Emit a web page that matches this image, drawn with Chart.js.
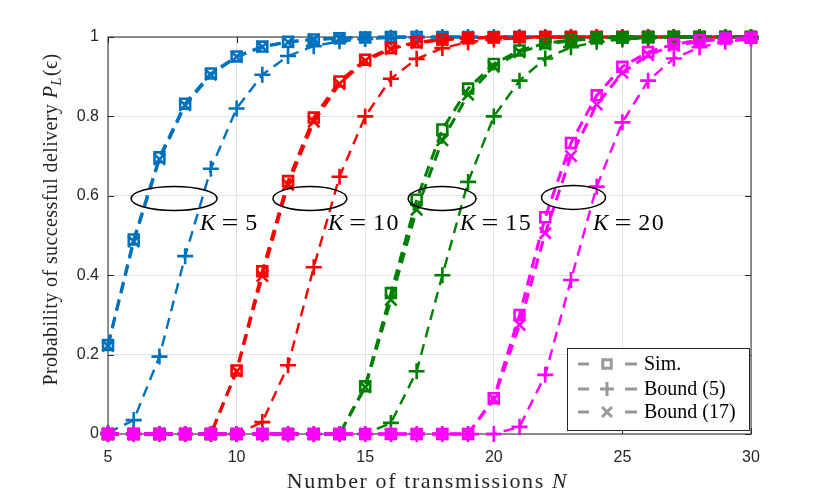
<!DOCTYPE html>
<html>
<head>
<meta charset="utf-8">
<script src="https://cdn.jsdelivr.net/npm/chart.js@4.4.1/dist/chart.umd.min.js"></script>
<style>
  html, body { margin: 0; padding: 0; background: #fff; }
</style>
</head>
<body>
<canvas id="c" width="830" height="498"></canvas>
<script>
// number of transmissions N
const Ns = [5, 6, 7, 8, 9, 10, 11, 12, 13, 14, 15, 16, 17, 18, 19, 20, 21, 22, 23, 24, 25, 26, 27, 28, 29, 30];

// K = 5
const sim5  = [0.224, 0.490, 0.697, 0.832, 0.908, 0.951, 0.976, 0.988, 0.994, 0.997, 0.999, 1, 1, 1, 1, 1, 1, 1, 1, 1, 1, 1, 1, 1, 1, 1];
const b5_5  = [0.003, 0.035, 0.195, 0.448, 0.668, 0.820, 0.905, 0.952, 0.977, 0.989, 0.995, 0.998, 0.999, 1, 1, 1, 1, 1, 1, 1, 1, 1, 1, 1, 1, 1];
const b17_5 = [0.222, 0.485, 0.692, 0.828, 0.905, 0.950, 0.975, 0.987, 0.994, 0.997, 0.999, 1, 1, 1, 1, 1, 1, 1, 1, 1, 1, 1, 1, 1, 1, 1];

// K = 10
const sim10  = [0, 0, 0, 0, 0, 0.160, 0.410, 0.637, 0.797, 0.888, 0.943, 0.972, 0.987, 0.994, 0.997, 0.999, 1, 1, 1, 1, 1, 1, 1, 1, 1, 1];
const b5_10  = [0, 0, 0, 0, 0, 0, 0.030, 0.173, 0.420, 0.648, 0.800, 0.895, 0.945, 0.972, 0.987, 0.994, 0.997, 0.999, 1, 1, 1, 1, 1, 1, 1, 1];
const b17_10 = [0, 0, 0, 0, 0, 0.158, 0.398, 0.628, 0.787, 0.882, 0.940, 0.970, 0.985, 0.993, 0.997, 0.999, 1, 1, 1, 1, 1, 1, 1, 1, 1, 1];

// K = 15
const sim15  = [0, 0, 0, 0, 0, 0, 0, 0, 0, 0, 0.120, 0.355, 0.590, 0.767, 0.870, 0.932, 0.966, 0.984, 0.993, 0.997, 0.999, 1, 1, 1, 1, 1];
const b5_15  = [0, 0, 0, 0, 0, 0, 0, 0, 0, 0, 0, 0.028, 0.158, 0.400, 0.635, 0.800, 0.890, 0.946, 0.974, 0.988, 0.994, 0.997, 0.999, 1, 1, 1];
const b17_15 = [0, 0, 0, 0, 0, 0, 0, 0, 0, 0, 0.118, 0.338, 0.565, 0.740, 0.855, 0.925, 0.962, 0.981, 0.991, 0.996, 0.998, 0.999, 1, 1, 1, 1];

// K = 20
const sim20  = [0, 0, 0, 0, 0, 0, 0, 0, 0, 0, 0, 0, 0, 0, 0, 0.090, 0.300, 0.546, 0.733, 0.853, 0.925, 0.962, 0.982, 0.992, 0.996, 0.998];
const b5_20  = [0, 0, 0, 0, 0, 0, 0, 0, 0, 0, 0, 0, 0, 0, 0, 0, 0.018, 0.149, 0.388, 0.623, 0.785, 0.890, 0.946, 0.974, 0.988, 0.995];
const b17_20 = [0, 0, 0, 0, 0, 0, 0, 0, 0, 0, 0, 0, 0, 0, 0, 0.088, 0.275, 0.506, 0.700, 0.830, 0.910, 0.955, 0.978, 0.989, 0.995, 0.998];

const xTicks = [5, 10, 15, 20, 25, 30];
const yTicks = [0, 0.2, 0.4, 0.6, 0.8, 1];
const yTickLabels = ["0", "0.2", "0.4", "0.6", "0.8", "1"];

const kNames = ["5", "10", "15", "20"];
const legendNames = ["Sim.", "Bound (5)", "Bound (17)"];

// ellipse groups: center N, center P, x radius in px
const ellipses = [[7.57, 0.593, 43], [12.85, 0.593, 37], [17.99, 0.593, 34], [23.1, 0.596, 32]];
const kLabelX = [8.58, 13.55, 18.69, 23.86];
const kLabelY = 0.514;

const colors = ["#0072BD", "#FF0000", "#008000", "#FF00FF"];
const groups = [[sim5, b5_5, b17_5], [sim10, b5_10, b17_10], [sim15, b5_15, b17_15], [sim20, b5_20, b17_20]];

const styles = [
  { pointStyle: "rect", radius: 7, width: 3 },
  { pointStyle: "cross", radius: 8, width: 2.4 },
  { pointStyle: "crossRot", radius: 8, width: 3 },
];

const serif = "'Liberation Serif', 'Times New Roman', serif";
const sans = "'Liberation Sans', Arial, sans-serif";
const axisColor = "#262626";

let datasets = [];
groups.forEach((g, gi) => {
  g.forEach((vals, si) => {
    const st = styles[si];
    datasets.push({
      label: "K" + kNames[gi] + " " + legendNames[si],
      data: vals.map((v, i) => ({ x: Ns[i], y: v })),
      borderColor: colors[gi],
      borderWidth: st.width,
      borderDash: [11, 7],
      pointStyle: st.pointStyle,
      pointRadius: st.radius,
      pointHoverRadius: st.radius,
      pointBorderWidth: 2.6,
      pointBorderColor: colors[gi],
      pointBackgroundColor: "rgba(0,0,0,0)",
      fill: false,
      tension: 0,
      clip: false,
      order: 20 - datasets.length,
    });
  });
});

function seg(ctx, x1, y1, x2, y2) {
  ctx.beginPath();
  ctx.moveTo(x1, y1);
  ctx.lineTo(x2, y2);
  ctx.stroke();
}

const frame = {
  id: "frame",
  beforeDatasetsDraw(chart) {
    const { ctx, chartArea: a, scales: { x, y } } = chart;
    ctx.save();
    ctx.strokeStyle = axisColor;
    ctx.lineWidth = 1;
    ctx.strokeRect(a.left, a.top, a.right - a.left, a.bottom - a.top);
    xTicks.forEach((v) => {
      const px = Math.round(x.getPixelForValue(v)) + 0.5;
      seg(ctx, px, a.bottom, px, a.bottom - 6);
      seg(ctx, px, a.top, px, a.top + 6);
    });
    yTicks.forEach((v) => {
      const py = Math.round(y.getPixelForValue(v)) + 0.5;
      seg(ctx, a.left, py, a.left + 6, py);
      seg(ctx, a.right, py, a.right - 6, py);
    });
    ctx.restore();
  },
  afterDatasetsDraw(chart) {
    const { ctx, chartArea: a, scales: { x, y } } = chart;
    ctx.save();
    // ellipses round each K group
    ctx.strokeStyle = "#000";
    ctx.lineWidth = 1.5;
    ellipses.forEach((e) => {
      ctx.beginPath();
      ctx.ellipse(x.getPixelForValue(e[0]), y.getPixelForValue(e[1]), e[2], 12, 0, 0, Math.PI * 2);
      ctx.stroke();
    });
    // K = .. labels
    ctx.fillStyle = "#000";
    ctx.textBaseline = "alphabetic";
    kNames.forEach((k, i) => {
      let px = x.getPixelForValue(kLabelX[i]);
      const py = y.getPixelForValue(kLabelY);
      ctx.font = "italic 23px " + serif;
      ctx.fillText("K", px, py);
      px += ctx.measureText("K").width + 6;
      ctx.font = "23px " + serif;
      ctx.save();
      ctx.translate(px, py);
      ctx.scale(1.3, 1);
      ctx.fillText("=", 0, 0);
      ctx.restore();
      px += ctx.measureText("=").width * 1.3 + 7;
      ctx.font = "24px " + serif;
      ctx.letterSpacing = "1.5px";
      ctx.fillText(k, px, py);
      ctx.letterSpacing = "0px";
    });

    // legend
    const lx = a.right - 184, ly = a.bottom - 86, lw = 182, lh = 82;
    ctx.fillStyle = "#fff";
    ctx.fillRect(lx, ly, lw, lh);
    ctx.strokeStyle = axisColor;
    ctx.lineWidth = 1;
    ctx.strokeRect(lx + 0.5, ly + 0.5, lw, lh);
    const rows = [16, 41, 64];
    legendNames.forEach((name, i) => {
      const ry = ly + rows[i];
      ctx.strokeStyle = "#999";
      ctx.lineWidth = 3;
      seg(ctx, lx + 11, ry, lx + 22, ry);
      seg(ctx, lx + 58, ry, lx + 70, ry);
      if (i === 0) seg(ctx, lx + 35, ry, lx + 45, ry);
      Chart.helpers.drawPoint(ctx, {
        pointStyle: styles[i].pointStyle,
        radius: styles[i].radius - 1,
        borderWidth: 2.8,
      }, lx + 40, ry);
      ctx.fillStyle = "#000";
      ctx.font = "20px " + serif;
      ctx.fillText(name, lx + 77, ry + 6);
    });
    ctx.restore();
  },
  afterDraw(chart) {
    const { ctx, chartArea: a } = chart;
    ctx.save();
    ctx.fillStyle = axisColor;
    ctx.textBaseline = "alphabetic";
    // x title
    const xt1 = "Number of transmissions ";
    ctx.letterSpacing = "1.6px";
    ctx.font = "22px " + serif;
    const w1 = ctx.measureText(xt1).width;
    ctx.font = "italic 22px " + serif;
    const w2 = ctx.measureText("N").width;
    let sx = (a.left + a.right) / 2 - 2 - (w1 + w2) / 2;
    ctx.font = "22px " + serif;
    ctx.fillText(xt1, sx, 488);
    ctx.font = "italic 22px " + serif;
    ctx.fillText("N", sx + w1, 488);

    // y title
    ctx.letterSpacing = "0.4px";
    ctx.translate(57, 220);
    ctx.rotate(-Math.PI / 2);
    const yt1 = "Probability of successful delivery ";
    ctx.font = "20px " + serif;
    const p1 = ctx.measureText(yt1).width;
    ctx.font = "italic 20px " + serif;
    const p2 = ctx.measureText("P").width;
    ctx.font = "italic 15px " + serif;
    const p3 = ctx.measureText("L").width;
    ctx.font = "20px " + serif;
    const p4 = ctx.measureText("(\u03F5)").width;
    let s = -(p1 + p2 + p3 + p4) / 2;
    ctx.font = "20px " + serif;
    ctx.fillText(yt1, s, 0);
    s += p1;
    ctx.font = "italic 20px " + serif;
    ctx.fillText("P", s, 0);
    s += p2;
    ctx.font = "italic 15px " + serif;
    ctx.fillText("L", s, 4);
    s += p3 + 1;
    ctx.font = "20px " + serif;
    ctx.fillText("(\u03F5)", s, 0);
    ctx.restore();
  },
};

new Chart(document.getElementById("c"), {
  type: "line",
  data: { datasets: datasets },
  plugins: [frame],
  options: {
    responsive: false,
    animation: false,
    devicePixelRatio: 1,
    events: [],
    layout: { padding: { top: 37, right: 79, left: 0, bottom: 0 } },
    plugins: { legend: { display: false }, tooltip: { enabled: false } },
    scales: {
      x: {
        type: "linear",
        min: 5,
        max: 30,
        afterFit: (s) => { s.height = 64; },
        afterBuildTicks: (s) => { s.ticks = xTicks.map((v) => ({ value: v })); },
        ticks: { color: axisColor, font: { family: sans, size: 16 }, padding: 14, maxRotation: 0 },
        grid: { color: "#e3e3e3", lineWidth: 1, drawTicks: false },
        border: { display: false },
      },
      y: {
        min: 0,
        max: 1,
        afterFit: (s) => { s.width = 108; },
        afterBuildTicks: (s) => { s.ticks = yTicks.map((v) => ({ value: v })); },
        ticks: {
          color: axisColor,
          font: { family: sans, size: 16 },
          padding: 9,
          callback: (v) => yTickLabels[yTicks.indexOf(v)],
        },
        grid: { color: "#e3e3e3", lineWidth: 1, drawTicks: false },
        border: { display: false },
      },
    },
  },
});
</script>
</body>
</html>
